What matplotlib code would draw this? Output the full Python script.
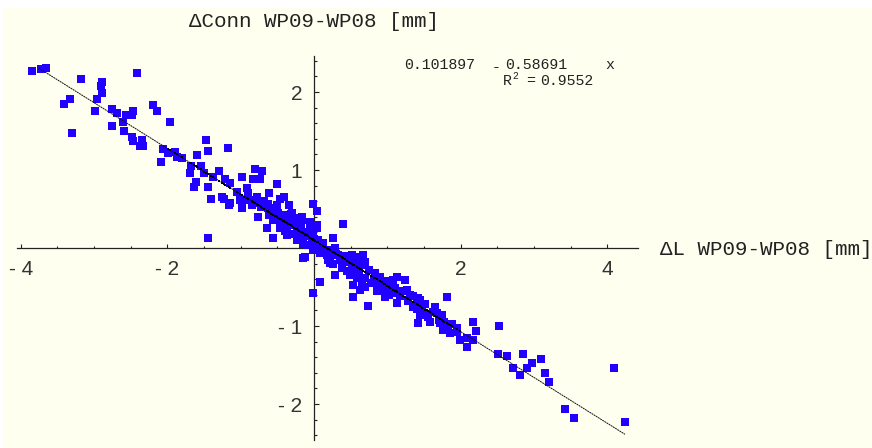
import matplotlib
matplotlib.use('Agg')
import matplotlib.pyplot as plt
import numpy as np

# ---- data ----
dx = [-3.851, -3.729, -3.656, -3.183, -2.419, -2.892, -2.910, -2.892, -2.965, -3.329,
      -3.415, -2.988, -3.306, -2.760, -2.692, -2.569, -2.473, -2.483, -2.201, -2.146,
      -1.965, -2.756, -2.602, -2.592, -2.479, -2.473, -2.351, -2.329, -2.374, -1.473,
      -2.087, -2.056, -1.988, -1.896, -1.873, -1.805, -1.600, -1.450, -1.173, -1.682,
      -1.542, -1.692, -1.610, -1.633, -1.450, -1.497, -1.300, -1.374, -1.409, -1.210,
      -1.146, -1.228, -1.164, -0.982, -0.809, -0.709, -0.828, -0.737, -0.918, -0.896,
      -0.828, -1.010, -0.986, -0.760, -0.610, -0.509, -0.464, -0.409, -0.345, -0.632,
      -0.536, -0.018, 0.045, -0.168, -0.304, -0.419, -0.645, -1.442,
      -1.255, -1.146, -0.782, -0.623, -0.487, -0.555, -0.555, -0.372, -0.236, -0.168,
      -0.055, -0.010, -0.146, -0.236, -0.100, 0.127, 0.037, -0.372, -0.441,
      0.037, 0.400, -0.464, -0.372, -0.214, 0.255, 0.286, -0.010, -0.123, 0.082,
      0.173, 0.195, 0.332, 0.514, 0.673, 0.583, 0.696, 0.423,
      -0.146, 0.218, 0.286, 0.082, -0.018, 0.514, 0.604, 0.491, 0.583, 0.651,
      0.696, 0.536, 0.628, 0.536, 0.741, 0.832, 0.900, 0.832, 0.924, 0.969,
      1.082, 1.128, 1.105, 1.128,
      1.241, 1.037, 1.265, 1.310, 1.423, 1.401, 1.355, 1.446, 1.423, 1.559,
      1.651, 1.674, 1.742, 1.810, 1.719, 1.832, 1.855, 1.947, 1.764,
      1.446, 1.538, 2.165, 2.210, 2.528, 2.083, 2.173, 2.083, 2.514, 2.637,
      2.847, 2.970, 3.093, 2.711, 2.902, 2.810, 3.151, 3.206, 4.089, 3.420,
      3.543, 4.243, 1.992,
      # dense core near the fit line
      -1.05, -0.95, -0.90, -0.85, -0.78, -0.72, -0.68, -0.62, -0.58, -0.52,
      -0.50, -0.47, -0.42, -0.40, -0.35, -0.32, -0.30, -0.27, -0.25, -0.20,
      -0.18, -0.15, -0.12, -0.08, -0.05, -0.03, 0.00, 0.02,
      0.05, 0.08, 0.12, 0.15, 0.20, 0.22, 0.26, 0.30, 0.35, 0.38,
      0.42, 0.45, 0.48, 0.55, 0.58,
      0.62, 0.66, 0.70, 0.75, 0.78, 0.82, 0.86, 0.90, 0.95, 1.00,
      1.02, 1.08, 1.12, 1.18, 1.22, 1.28,
      1.35, 1.40, 1.48, 1.52, 1.58, 1.62, 1.70, 1.78, 1.88, 1.95]
dy = [2.273, 2.291, 2.312, 2.171, 2.247, 2.128, 2.077, 1.991, 1.910, 1.906,
      1.850, 1.760, 1.478, 1.786, 1.735, 1.709, 1.760, 1.705, 1.829, 1.760,
      1.619, 1.564, 1.612, 1.504, 1.427, 1.376, 1.385, 1.308, 1.308, 1.385,
      1.106, 1.265, 1.214, 1.235, 1.171, 1.150, 1.192, 1.247, 1.286, 1.051,
      1.051, 0.958, 0.850, 0.786, 0.786, 0.958, 0.991, 0.906, 0.632, 0.881,
      0.829, 0.624, 0.547, 0.914, 1.017, 0.991, 0.881, 0.881, 0.765, 0.658,
      0.615, 0.615, 0.509, 0.401, 0.709, 0.821, 0.624, 0.658, 0.547, 0.564,
      0.509, 0.564, 0.478, 0.401, 0.445, 0.423, 0.253, 0.124,
      0.658, 0.573, 0.573, 0.509, 0.445, 0.359, 0.124, 0.167, 0.273, 0.359,
      0.337, 0.209, 0.124, 0.103, 0.038, 0.060, 0.295, 0.273, 0.317,
      0.253, 0.308, 0.253, 0.209, 0.167, 0.124, -0.004, -0.026, -0.112, -0.068,
      -0.090, -0.154, -0.090, -0.090, -0.090, -0.154, -0.176, -0.176,
      -0.132, -0.196, -0.346, -0.432, -0.573, -0.218, -0.260, -0.346, -0.388, -0.453,
      -0.496, -0.474, -0.538, -0.624, -0.740, -0.324, -0.368, -0.453, -0.496, -0.624,
      -0.410, -0.368, -0.517, -0.709,
      -0.410, -0.517, -0.538, -0.603, -0.645, -0.709, -0.753, -0.859, -0.965, -0.881,
      -0.753, -0.837, -0.859, -0.632, -0.965, -1.009, -1.094, -1.073, -1.051,
      -0.667, -0.859, -0.945, -1.060, -0.996, -1.158, -1.179, -1.265, -1.359, -1.385,
      -1.363, -1.478, -1.427, -1.535, -1.542, -1.628, -1.599, -1.714, -1.535, -2.060,
      -2.176, -2.227, -1.179,
      0.72, 0.62, 0.70, 0.55, 0.66, 0.52, 0.60, 0.42, 0.47, 0.38,
      0.55, 0.30, 0.40, 0.22, 0.33, 0.43, 0.18, 0.30, 0.38, 0.22,
      0.28, 0.05, 0.20, 0.15, 0.25, 0.08, 0.12, 0.02,
      0.10, -0.02, 0.02, -0.05, -0.03, -0.10, -0.20, -0.08, -0.15, -0.25,
      -0.10, -0.30, -0.18, -0.30, -0.12,
      -0.35, -0.22, -0.38, -0.28, -0.45, -0.40, -0.55, -0.45, -0.52, -0.42,
      -0.60, -0.50, -0.58, -0.62, -0.55, -0.68,
      -0.62, -0.78, -0.80, -0.72, -0.95, -0.82, -0.92, -0.95, -0.98, -1.02]

fit_a = 0.101897
fit_b = -0.58691
r2 = 0.9552

x_major = [-4, -2, 2, 4]
x_major_labels = ['- 4', '- 2', '2', '4']
y_major = [-2, -1, 1, 2]
y_major_labels = ['- 2', '- 1', '1', '2']
x_minor = [-4.0, -3.5, -3.0, -2.5, -2.0, -1.5, -1.0, -0.5, 0.5, 1.0, 1.5, 2.0,
           2.5, 3.0, 3.5, 4.0]
y_minor = [-2.4, -2.2, -2.0, -1.8, -1.6, -1.4, -1.2, -1.0, -0.8, -0.6, -0.4, -0.2,
           0.2, 0.4, 0.6, 0.8, 1.0, 1.2, 1.4, 1.6, 1.8, 2.0, 2.2, 2.4]

W, H = 872, 448
fig = plt.figure(figsize=(W / 100, H / 100), dpi=100)
fig.patch.set_facecolor('white')
ax = fig.add_axes([3 / W, 0, (W - 3) / W, (H - 8) / H])
ax.set_facecolor('#FFFFF0')
ax.set_xlim(-4.243, 7.613)
ax.set_ylim(-2.564, 3.077)

for s in ['top', 'right']:
    ax.spines[s].set_visible(False)
ax.spines['left'].set_position(('data', 0))
ax.spines['bottom'].set_position(('data', 0))
ax.spines['left'].set_bounds(-2.46, 2.46)
ax.spines['bottom'].set_bounds(-4.05, 4.42)
for s in ['left', 'bottom']:
    ax.spines[s].set_color('#222222')
    ax.spines[s].set_linewidth(0.9)
    ax.spines[s].set_zorder(1)

ax.set_xticks(x_major)
ax.set_xticklabels(x_major_labels)
ax.set_xticks(x_minor, minor=True)
ax.set_yticks(y_major)
ax.set_yticklabels(y_major_labels)
ax.set_yticks(y_minor, minor=True)
ax.tick_params(axis='both', which='both', direction='in', color='#222222', width=0.8,
               labelcolor='#333333', labelsize=15)
ax.tick_params(axis='x', which='major', length=2.8, pad=8.5)
ax.tick_params(axis='x', which='minor', length=1.6)
ax.tick_params(axis='y', which='major', length=3.4, pad=8.5)
ax.tick_params(axis='y', which='minor', length=1.8)
for lab in ax.get_xticklabels() + ax.get_yticklabels():
    lab.set_fontfamily('Liberation Sans')

# scatter points
ax.plot(dx, dy, linestyle='none', marker='s', markersize=5.7, markeredgewidth=0,
        color='#2200FF', zorder=2)

# fitted line (dense fitted values give the thicker core)
xs = np.array(dx)
xl = np.array([-3.76, xs.max()])
ax.plot(xl, fit_a + fit_b * xl, color='#111111', linewidth=0.7, linestyle=(0, (2, 0.6)),
        zorder=3)
ax.plot(xs[np.abs(xs) < 2.0], fit_a + fit_b * xs[np.abs(xs) < 2.0], linestyle='none',
        marker='s', markersize=1.8, markeredgewidth=0, color='black', zorder=3)

mono = 'Liberation Mono'
fig.text(314 / W, 1 - 27 / H, '\u0394Conn WP09-WP08 [mm]', family=mono, fontsize=15,
         ha='center', va='baseline', color='#222222')
fig.text(660 / W, 1 - 255 / H, '\u0394L WP09-WP08 [mm]', family=mono, fontsize=15,
         ha='left', va='baseline', color='#222222')

# fit equation
fs = 10.7
fig.text(404 / W, 1 - 69 / H, f'{fit_a:g}', family=mono, fontsize=fs, va='baseline', color='#222222')
fig.text(492 / W, 1 - 71 / H, '-', family=mono, fontsize=fs, va='baseline', color='#222222')
fig.text(505 / W, 1 - 69 / H, f'{-fit_b:g}', family=mono, fontsize=fs, va='baseline', color='#222222')
fig.text(605 / W, 1 - 69 / H, 'x', family=mono, fontsize=fs, va='baseline', color='#222222')
fig.text(503 / W, 1 - 85 / H, 'R', family=mono, fontsize=fs, va='baseline', color='#222222')
fig.text(512 / W, 1 - 79 / H, '2', family=mono, fontsize=7, va='baseline', color='#222222')
fig.text(526 / W, 1 - 85 / H, '=', family=mono, fontsize=fs, va='baseline', color='#222222')
fig.text(540 / W, 1 - 85 / H, f'{r2:g}', family=mono, fontsize=fs, va='baseline', color='#222222')

fig.savefig('out.png', dpi=100, facecolor=fig.get_facecolor())
